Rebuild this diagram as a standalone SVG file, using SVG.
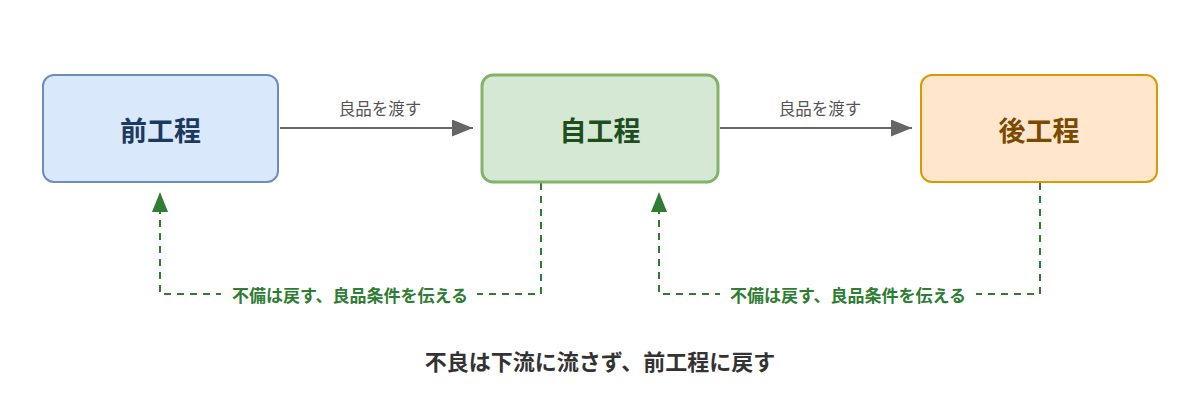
<svg xmlns="http://www.w3.org/2000/svg" width="1200" height="407" viewBox="0 0 1200 407">
<defs>
<style>
text{font-family:"Noto Sans CJK JP","Noto Sans",sans-serif;text-anchor:middle;dominant-baseline:central}
.title{font-size:27px;font-weight:bold}
.flow{fill:none;stroke:#666;stroke-width:2}
.flowlbl{font-size:16.5px;fill:#555}
.fb{fill:none;stroke:#2e7d32;stroke-width:2;stroke-dasharray:7 6}
.fblbl{font-size:17px;font-weight:bold;fill:#2e7d32}
</style>
<marker id="ag" markerWidth="21" markerHeight="17" refX="21" refY="8.5" orient="auto" markerUnits="userSpaceOnUse"><path d="M0,0 L21,8.5 L0,17 Z" fill="#666"/></marker>
<marker id="agr" markerWidth="20" markerHeight="16" refX="20" refY="8" orient="auto" markerUnits="userSpaceOnUse"><path d="M0,0 L20,8 L0,16 Z" fill="#2e7d32"/></marker>
</defs>
<rect width="1200" height="407" fill="#fff"/>
<g id="connectors">
<line class="flow" x1="280" y1="128" x2="473" y2="128" marker-end="url(#ag)"/>
<text class="flowlbl" x="380" y="108">良品を渡す</text>
<line class="flow" x1="720" y1="128" x2="912" y2="128" marker-end="url(#ag)"/>
<text class="flowlbl" x="820" y="108">良品を渡す</text>
<path class="fb" d="M541,183 V294 H160 V192" marker-end="url(#agr)"/>
<rect x="221" y="283" width="256" height="24" fill="#fff"/>
<text class="fblbl" x="350" y="294">不備は戻す、良品条件を伝える</text>
<path class="fb" d="M1040,183 V294 H659 V192" marker-end="url(#agr)"/>
<rect x="720" y="283" width="256" height="24" fill="#fff"/>
<text class="fblbl" x="848" y="294">不備は戻す、良品条件を伝える</text>
</g>
<g id="node-prev">
<rect x="43" y="75" width="235" height="107" rx="11" fill="#dae8fc" stroke="#6c8ebf" stroke-width="2"/>
<text class="title" x="160.5" y="129" fill="#1c3a5e">前工程</text>
</g>
<g id="node-self">
<rect x="482" y="75" width="236" height="107" rx="11" fill="#d5e8d4" stroke="#82b366" stroke-width="3"/>
<text class="title" x="600" y="129" fill="#1e4d1e">自工程</text>
</g>
<g id="node-next">
<rect x="921" y="75" width="236" height="107" rx="11" fill="#ffe6cc" stroke="#d79b00" stroke-width="2"/>
<text class="title" x="1039" y="129" fill="#7a4a00">後工程</text>
</g>
<text x="600" y="360" font-size="22" font-weight="bold" fill="#333">不良は下流に流さず、前工程に戻す</text>
</svg>
